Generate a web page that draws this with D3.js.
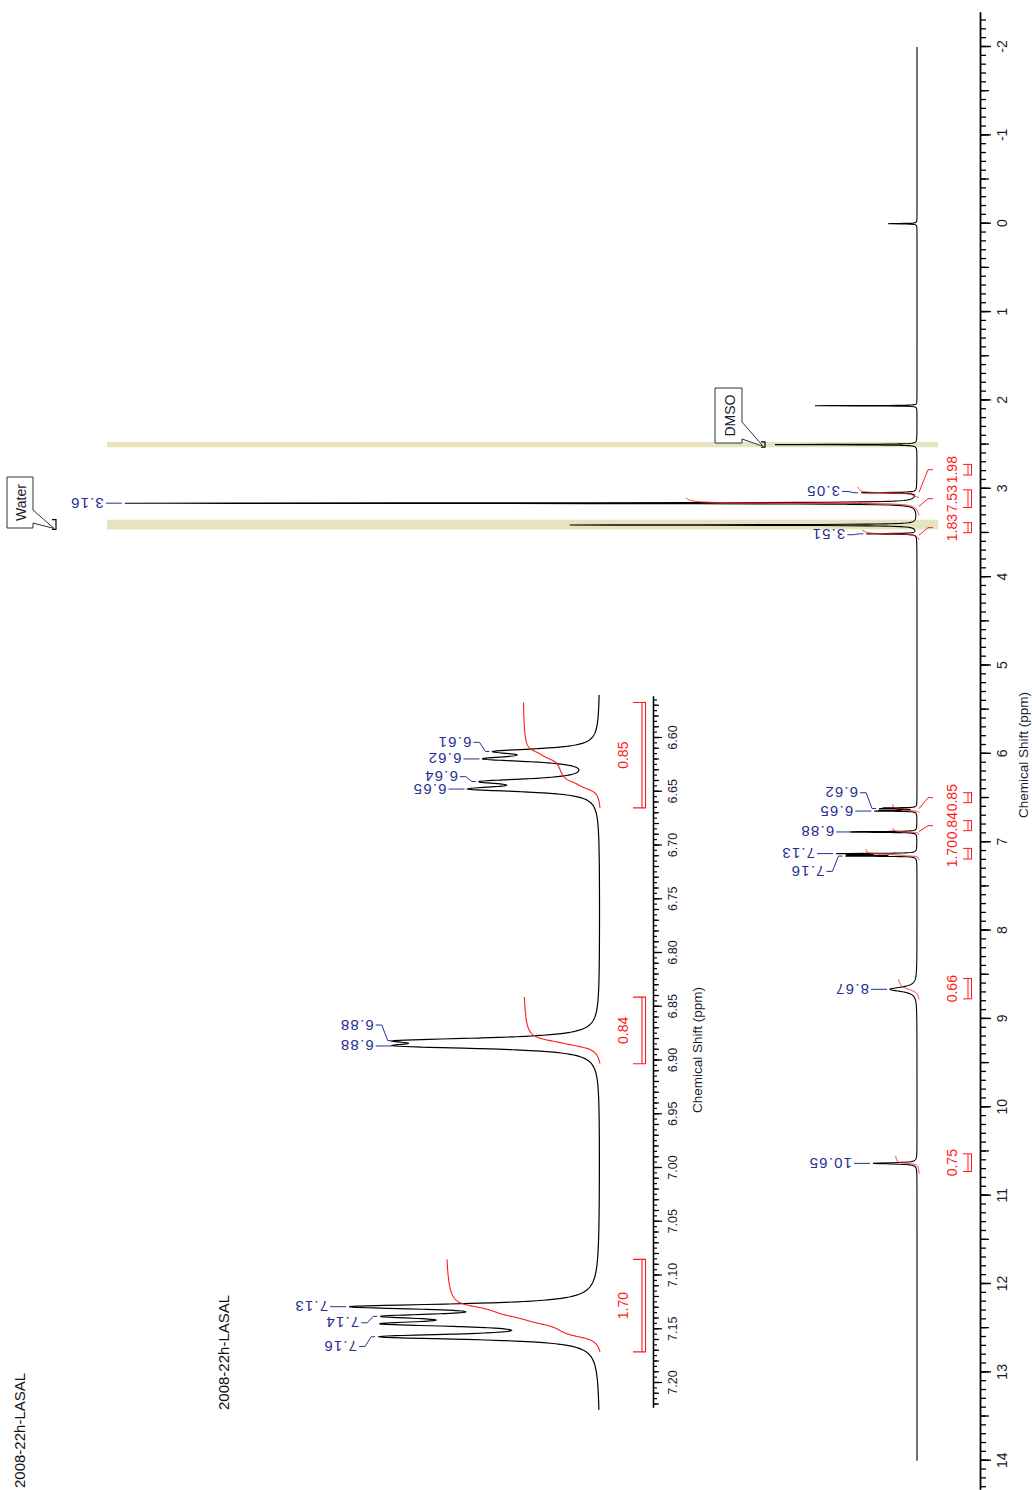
<!DOCTYPE html>
<html>
<head>
<meta charset="utf-8">
<script src="https://cdn.jsdelivr.net/npm/d3@7"></script>
<style>
  body { margin: 0; background: #fff; }
  svg { display: block; }
  text { font-family: "Liberation Sans", Arial, sans-serif; }
</style>
</head>
<body>
<svg id="canvas"></svg>
<script>
// peak list: position (ppm), height, half width (ppm)
const peakPpm = [0.00, 2.06, 2.50, 3.045, 3.163, 3.41, 3.51,
  6.6125, 6.6195, 6.6405, 6.6475, 6.8815, 6.8865,
  7.129, 7.138, 7.145, 7.157, 8.665, 10.635];
const peakHeight = [29, 102, 142, 55, 792, 347, 50,
  29, 32.3, 32.3, 37.1, 52.3, 52.3,
  72.9, 53.2, 56.5, 66.1, 27, 44];
const peakWidth = [0.003, 0.002, 0.003, 0.004, 0.004, 0.004, 0.004,
  0.003, 0.003, 0.003, 0.003, 0.003, 0.003,
  0.003, 0.003, 0.003, 0.003, 0.03, 0.008];

// peak labels
const mainPeakText = ["3.16", "3.05", "3.51", "6.62", "6.65", "6.88", "7.13", "7.16", "8.67", "10.65"];
const mainPeakAt = [3.163, 3.045, 3.51, 6.6195, 6.6475, 6.884, 7.129, 7.157, 8.665, 10.635];
const mainLabelAt = [3.163, 3.03, 3.52, 6.44, 6.6475, 6.884, 7.129, 7.33, 8.665, 10.635];

const insetPeakText = ["6.61", "6.62", "6.64", "6.65", "6.88", "6.88", "7.13", "7.14", "7.16"];
const insetPeakAt = [6.6125, 6.6195, 6.6405, 6.6475, 6.8815, 6.8865, 7.129, 7.138, 7.157];
const insetLabelAt = [6.604, 6.6195, 6.636, 6.6475, 6.867, 6.8865, 7.129, 7.144, 7.166];

// integrals
const mainIntFrom = [2.98, 3.10, 3.47, 6.57, 6.84, 7.08, 8.55, 10.55];
const mainIntTo = [3.10, 3.30, 3.58, 6.67, 6.92, 7.20, 8.78, 10.75];
const mainIntValue = ["1.98", "7.53", "1.83", "0.85", "0.84", "1.70", "0.66", "0.75"];
const mainIntLabelAt = [2.784, 3.112, 3.440, 6.496, 6.813, 7.130, 8.658, 10.627];

const insetIntFrom = [6.567, 6.841, 7.085];
const insetIntTo = [6.665, 6.903, 7.171];
const insetIntValue = ["0.85", "0.84", "1.70"];

// solvent bands
const bandFrom = [2.47, 3.35];
const bandTo = [2.53, 3.46];
const bandName = ["DMSO", "Water"];

const mainTickLabels = [-2, -1, 0, 1, 2, 3, 4, 5, 6, 7, 8, 9, 10, 11, 12, 13, 14];
const insetTickLabels = ["6.60", "6.65", "6.70", "6.75", "6.80", "6.85", "6.90",
  "6.95", "7.00", "7.05", "7.10", "7.15", "7.20"];

const title = "2008-22h-LASAL";

// ---- page is the spectrum turned a quarter turn; draw in the plot frame
const W = 1490, H = 1032;
const svg = d3.select("#canvas").attr("width", H).attr("height", W);
const root = svg.append("g").attr("transform", "translate(0," + W + ") rotate(-90)");

const xMain = d3.scaleLinear().domain([14, -2]).range([29.3, 1443]);
const yMain = d3.scaleLinear().domain([0, 100]).range([917, 817]);
const xIns = d3.scaleLinear().domain([7.20, 6.60]).range([107, 752]);
const yIns = d3.scaleLinear().domain([0, 100]).range([600, 290]);
const intMain = d3.scaleLinear().domain([0, 1]).range([919, 888]);
const intIns = d3.scaleLinear().domain([0, 1]).range([600, 510]);

const navy = "#27308f";
const red = "#ff1a1a";
const ink = "#1b1b2b";

let spec = (p) => {
  let s = 0;
  for (let i = 0; i < peakPpm.length; i++) {
    const w = peakWidth[i], d = p - peakPpm[i];
    s += peakHeight[i] * w * w / (d * d + w * w);
  }
  return s;
};

let samples = (lo, hi, step) => {
  const pts = d3.range(Math.round((hi - lo) / step) + 1).map((i) => lo + i * step);
  peakPpm.forEach((p, i) => {
    if (p > lo && p < hi) {
      for (let k = -8; k <= 8; k++) pts.push(p + k * peakWidth[i] * 0.4);
    }
  });
  return pts.filter((v) => v >= lo && v <= hi).sort((a, b) => a - b);
};

let integral = (from, to) => {
  const n = 300, step = (to - from) / n;
  let acc = 0;
  const out = [[to, 0]];
  for (let i = 1; i <= n; i++) {
    const p = to - i * step;
    acc += (spec(p) + spec(p + step)) / 2 * step;
    out.push([p, acc]);
  }
  return out.map((d) => [d[0], d[1] / acc]);
};

// ---- solvent bands
bandFrom.forEach((f, i) => {
  root.append("rect")
    .attr("x", xMain(bandTo[i]))
    .attr("width", xMain(f) - xMain(bandTo[i]))
    .attr("y", 107).attr("height", 831)
    .attr("fill", "#e6e4be");
});

// ---- main spectrum
root.append("path")
  .datum(samples(-2, 14, 0.004))
  .attr("fill", "none").attr("stroke", "#000").attr("stroke-width", 1.1)
  .attr("d", d3.line().x((d) => xMain(d)).y((d) => yMain(spec(d))));

// ---- main axis
const axMain = d3.scaleLinear().domain([xMain.invert(0), xMain.invert(1477)]).range([0, 1477]);
let gAxis = root.append("g").attr("transform", "translate(0,980)");
gAxis.append("g").call(d3.axisBottom(axMain).tickValues(d3.range(-23, 144).map((i) => i / 10)).tickSize(6).tickSizeOuter(0).tickFormat(""));
gAxis.append("g").call(d3.axisBottom(axMain).tickValues(d3.range(-4, 29).map((i) => i / 2)).tickSize(9).tickSizeOuter(0).tickFormat(""));
gAxis.append("g").call(d3.axisBottom(axMain).tickValues(mainTickLabels).tickSize(11).tickPadding(6).tickSizeOuter(0).tickFormat((d) => String(d)));
gAxis.selectAll("path, line").attr("stroke", "#000").attr("stroke-width", 1.3);
gAxis.selectAll("text").attr("font-size", 14).attr("fill", ink).attr("font-family", "Liberation Sans, Arial, sans-serif");
root.append("text").attr("x", 735).attr("y", 1028).attr("text-anchor", "middle")
  .attr("font-size", 13.5).attr("fill", ink).text("Chemical Shift (ppm)");

// ---- main integrals
mainIntFrom.forEach((f, i) => {
  const t = mainIntTo[i], v = +mainIntValue[i];
  root.append("path")
    .datum(integral(f, t))
    .attr("fill", "none").attr("stroke", red).attr("stroke-width", 1)
    .attr("d", d3.line().x((d) => xMain(d[0])).y((d) => intMain(d[1] * v)));
  const xl = xMain(mainIntLabelAt[i]);
  const xc = xMain((f + t) / 2);
  if (Math.abs(xl - xc) > 4) {
    root.append("polyline")
      .attr("points", [[xl, 933], [xl, 928], [xc, 919]].join(" "))
      .attr("fill", "none").attr("stroke", red).attr("stroke-width", 1);
  }
  root.append("text").attr("x", xl).attr("y", 957).attr("text-anchor", "middle")
    .attr("font-size", 14).attr("fill", red).text(mainIntValue[i]);
  const hw = Math.max(5, Math.abs(xMain(f) - xMain(t)) / 2);
  root.append("path")
    .attr("d", "M" + (xl - hw) + ",963V972M" + (xl + hw) + ",963V972M" + (xl - hw) + ",968H" + (xl + hw) + "M" + (xl - hw) + ",971.5H" + (xl + hw))
    .attr("fill", "none").attr("stroke", red).attr("stroke-width", 1);
});

// ---- peak labels (text runs along the peak)
let peakLabel = (g, xs, ys, text, at, labelAt) => {
  const xt = xs(at), xl = xs(labelAt);
  const tip = ys(spec(at));
  const pts = xt === xl
    ? [[xt, tip - 3], [xl, tip - 19]]
    : [[xt, tip - 3], [xt, tip - 7], [xl, tip - 13], [xl, tip - 19]];
  g.append("polyline").attr("points", pts.join(" "))
    .attr("fill", "none").attr("stroke", navy).attr("stroke-width", 1);
  g.append("text")
    .attr("transform", "translate(" + xl + "," + (tip - 21) + ") rotate(-90)")
    .attr("dominant-baseline", "central")
    .attr("font-size", 15).attr("letter-spacing", 1.2)
    .attr("fill", navy).text(text);
};
mainPeakText.forEach((t, i) => peakLabel(root, xMain, yMain, t, mainPeakAt[i], mainLabelAt[i]));

// ---- solvent call-outs
let callout = (i, box, tailA, tailB, tip, tagY) => {
  const [x0, y0, x1, y1] = box;
  root.append("path")
    .attr("d", "M" + x0 + "," + y0 + "H" + x1 + "V" + y1 + "H" + tailA + "L" + tip[0] + "," + tip[1] + "L" + tailB + "," + y1 + "H" + x0 + "Z")
    .attr("fill", "#fff").attr("stroke", "#333").attr("stroke-width", 1);
  root.append("text").attr("x", (x0 + x1) / 2).attr("y", y1 - 7).attr("text-anchor", "middle")
    .attr("font-size", 14).attr("fill", ink).text(bandName[i]);
  const a = xMain(bandTo[i]), b = xMain(bandFrom[i]);
  root.append("path")
    .attr("d", "M" + a + "," + (tagY - 4) + "V" + tagY + "H" + b + "V" + (tagY - 4))
    .attr("fill", "none").attr("stroke", "#000").attr("stroke-width", 1.2);
};
callout(0, [1047, 715, 1102, 742], 1068, 1051, [xMain(bandTo[0]) + 1, 763], 765);
callout(1, [962, 7, 1013, 33], 980, 967, [xMain(bandTo[1]) + 1, 54], 56);

// ---- titles
root.append("text").attr("x", 2).attr("y", 25).attr("font-size", 15).attr("fill", "#111").text(title);
root.append("text").attr("x", 80).attr("y", 229).attr("font-size", 15).attr("fill", "#111").text(title);

// ---- inset (expansion of the aromatic region)
const ins = root.append("g");
ins.append("path")
  .datum(samples(6.56, 7.225, 0.0005))
  .attr("fill", "none").attr("stroke", "#000").attr("stroke-width", 1.2)
  .attr("d", d3.line().x((d) => xIns(d)).y((d) => yIns(spec(d))));

const axIns = d3.scaleLinear().domain([xIns.invert(82), xIns.invert(793)]).range([82, 793]);
let gIns = ins.append("g").attr("transform", "translate(0,653)");
gIns.append("g").call(d3.axisBottom(axIns).tickValues(d3.range(1313, 1445).map((i) => i / 200)).tickSize(4).tickSizeOuter(0).tickFormat(""));
gIns.append("g").call(d3.axisBottom(axIns).tickValues(d3.range(657, 723).map((i) => i / 100)).tickSize(6).tickSizeOuter(0).tickFormat(""));
gIns.append("g").call(d3.axisBottom(axIns).tickValues(insetTickLabels.map(Number)).tickSize(9).tickPadding(6).tickSizeOuter(0).tickFormat(d3.format(".2f")));
gIns.selectAll("path, line").attr("stroke", "#000").attr("stroke-width", 1.2);
gIns.selectAll("text").attr("font-size", 12.5).attr("fill", ink).attr("font-family", "Liberation Sans, Arial, sans-serif");
ins.append("text").attr("x", 440).attr("y", 702).attr("text-anchor", "middle")
  .attr("font-size", 13.5).attr("fill", ink).text("Chemical Shift (ppm)");

insetIntFrom.forEach((f, i) => {
  const t = insetIntTo[i], v = +insetIntValue[i];
  ins.append("path")
    .datum(integral(f, t))
    .attr("fill", "none").attr("stroke", red).attr("stroke-width", 1.1)
    .attr("d", d3.line().x((d) => xIns(d[0])).y((d) => intIns(d[1] * v)));
  const a = xIns(t), b = xIns(f);
  ins.append("path")
    .attr("d", "M" + a + ",633V646M" + b + ",633V646M" + a + ",642H" + b + "M" + a + ",645.5H" + b)
    .attr("fill", "none").attr("stroke", red).attr("stroke-width", 1.1);
  ins.append("text").attr("x", (a + b) / 2).attr("y", 628).attr("text-anchor", "middle")
    .attr("font-size", 14).attr("fill", red).text(insetIntValue[i]);
});

insetPeakText.forEach((t, i) => peakLabel(ins, xIns, yIns, t, insetPeakAt[i], insetLabelAt[i]));
</script>
</body>
</html>
